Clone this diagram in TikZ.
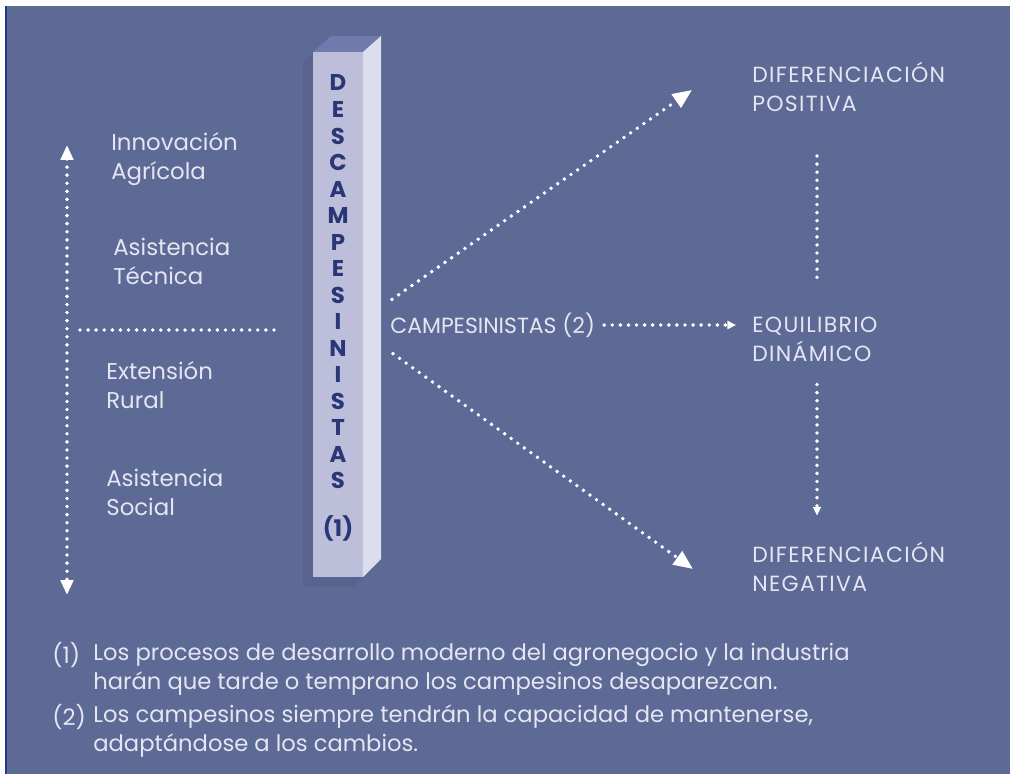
\documentclass[tikz,border=0pt]{standalone}
\usepackage{fontspec}
\setmainfont{Poppins}
\usetikzlibrary{positioning, arrows.meta, calc}
\definecolor{bgBlue}{RGB}{94,106,150}
\definecolor{edgeBlue}{RGB}{30,60,140}
\definecolor{txtGrey}{RGB}{228,230,242}
\definecolor{pilFront}{RGB}{188,190,218}
\definecolor{pilSide}{RGB}{220,222,238}
\definecolor{pilTop}{RGB}{112,122,172}
\definecolor{pilShade}{RGB}{88,99,144}
\definecolor{pilInk}{RGB}{42,55,118}

\begin{document}
\begin{tikzpicture}[x=0.02cm, y=-0.02cm,
		lbl/.style={text=txtGrey, font=\fontsize{13}{16.5}\selectfont, align=left, anchor=west, inner sep=0pt},
		note/.style={lbl, font=\fontsize{12.9}{16.3}\selectfont},
		caps/.style={lbl, font=\fontsize{12.5}{16.5}\selectfont\addfontfeatures{LetterSpace=6}},
		pil/.style={text=pilInk, font=\bfseries\fontsize{13}{15.1}\selectfont, align=center, inner sep=0pt},
		dots/.style={draw=white, line width=2.2pt, line cap=round, dash pattern=on 0pt off 4.6pt},
		bigtip/.style={-{Triangle[length=11pt, width=9pt, fill=white]}}]
	% background and frame
	\fill[white] (0,0) rectangle (1010,774);
	\fill[bgBlue] (7,6) rectangle (1010,774);
	\fill[edgeBlue] (5,6) rectangle (7,774);
	\useasboundingbox (0,0) rectangle (1010,774);
	% pillar
	\fill[pilShade] (303,62) -- (313,52) -- (313,577) -- (363,577) -- (353,587) -- (303,587) -- cycle;
	\fill[pilTop] (313,52) -- (331,36) -- (381,36) -- (363,52) -- cycle;
	\fill[pilSide] (363,52) -- (381,36) -- (381,559) -- (363,577) -- cycle;
	\fill[pilFront] (313,52) rectangle (363,577);
	\node[pil] (word) at (338,282) {D\\E\\S\\C\\A\\M\\P\\E\\S\\I\\N\\I\\S\\T\\A\\S};
	\node[pil] (one) at (338,528) {(1)};
	% left labels
	\node[lbl] (inno) at (111,159) {Innovación\\Agrícola};
	\node[lbl] (tec) at (113,261) {Asistencia\\Técnica};
	\node[lbl] (ext) at (106,385) {Extensión\\Rural};
	\node[lbl] (soc) at (106,492) {Asistencia\\Social};
	\coordinate (axtop) at (67,145);
	\coordinate (axbot) at (67,595);
	\coordinate (hl) at (80,330);
	\coordinate (hr) at (282,330);
	\draw[dots, {Triangle[length=8.5pt, width=7pt, fill=white]}-{Triangle[length=8.5pt, width=7pt, fill=white]}] (axtop) -- (axbot);
	\draw[dots] (hl) -- (hr);
	% right side
	\node[lbl, font=\fontsize{12.5}{16.5}\selectfont] (camp) at (390,325) {CAMPESINISTAS (2)};
	\node[caps] (pos) at (752,87) {DIFERENCIACIÓN\\POSITIVA};
	\node[caps] (equi) at (752,339) {EQUILIBRIO\\DINÁMICO};
	\node[caps] (neg) at (752,567) {DIFERENCIACIÓN\\NEGATIVA};
	\coordinate (vx) at (817,0);
	\draw[dots, bigtip] ($(camp.north west)+(2,-13)$) -- ($(pos.west)+(-60,3)$);
	\draw[dots, bigtip] ($(camp.south west)+(3,16)$) -- ($(neg.west)+(-59,2)$);
	\draw[dots, -{Triangle[length=5pt, width=4.5pt, fill=white]}, shorten <=5pt, shorten >=9pt] (camp.east) -- (camp.east -| equi.west);
	\draw[dots, shorten <=25pt, shorten >=19pt] (vx |- pos.south) -- (vx |- equi.north);
	\draw[dots, -{Triangle[length=5pt, width=4.5pt, fill=white]}, shorten <=13pt, shorten >=15pt] (vx |- equi.south) -- (vx |- neg.north);
	% notes
	\node[note] (n1) at (52,655) {(1)};
	\node[note] (f1) at (93,669) {Los procesos de desarrollo moderno del agronegocio y la industria\\harán que tarde o temprano los campesinos desaparezcan.};
	\node[note] (n2) at (52,717) {(2)};
	\node[note] (f2) at (93,731) {Los campesinos siempre tendrán la capacidad de mantenerse,\\adaptándose a los cambios.};
\end{tikzpicture}
\end{document}
